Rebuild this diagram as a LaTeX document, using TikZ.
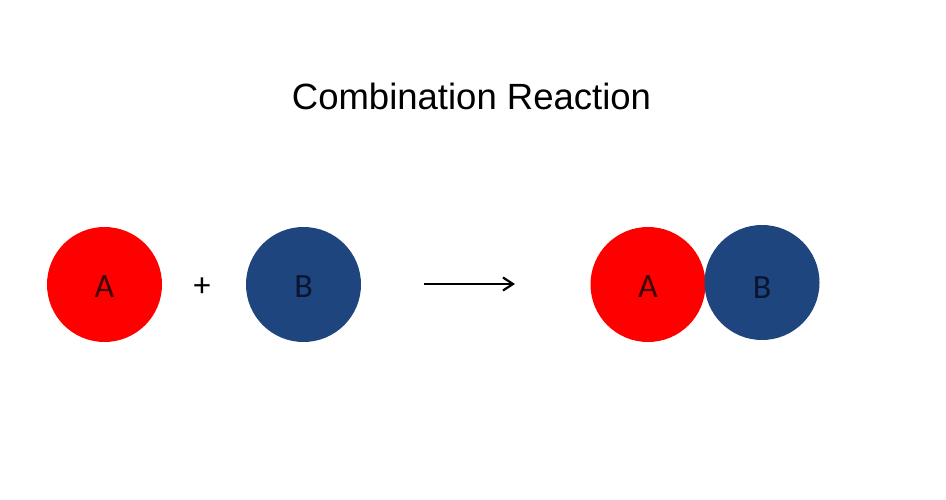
\documentclass[tikz,border=0pt]{standalone}
\usepackage{fontspec}
\setmainfont{Carlito}
\newfontfamily\titlefont{Liberation Sans}
\usetikzlibrary{arrows.meta}
\definecolor{redball}{HTML}{FF0000}
\definecolor{blueball}{HTML}{1F457E}
\definecolor{atext}{HTML}{3A0505}
\definecolor{btext}{HTML}{0A1530}
\begin{document}
\begin{tikzpicture}[x=1pt,y=1pt,
  ball/.style={circle,minimum size=115pt,inner sep=0pt,font=\fontsize{34}{34}\selectfont,text height=27pt,text depth=0pt},
  redb/.style={ball,fill=redball,text=atext},
  blueb/.style={ball,fill=blueball,text=btext}]
\useasboundingbox (0,0) rectangle (946,499);
\fill[white] (0,0) rectangle (946,499);
\node[font=\titlefont\fontsize{36.5}{36.5}\selectfont,anchor=base] (title) at (471.5,389.5) {Combination Reaction};
\node[redb] (a1) at (104.5,214.5) {A};
\node[font=\fontsize{34}{34}\selectfont] (plus) at (202,212) {+};
\node[blueb] (b1) at (303.5,214.5) {B};
\coordinate (s) at (424,215);
\coordinate (e) at (515,215);
\draw[line width=2.2pt,-{Straight Barb[length=10pt,width=13pt,line width=2.2pt]}] (s) -- (e);
\node[redb] (a2) at (648,214.5) {A};
\node[blueb,text height=32pt] (b2) at (762,216.5) {B};
\end{tikzpicture}
\end{document}
